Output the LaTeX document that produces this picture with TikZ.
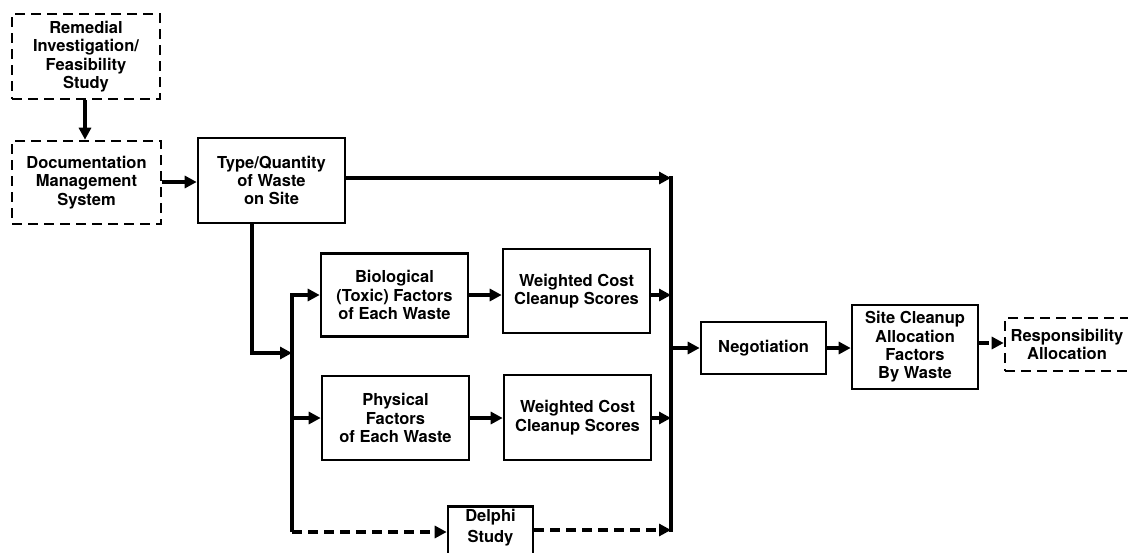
\documentclass[tikz,border=0pt]{standalone}
\usepackage{fontspec}
\setmainfont{TeX Gyre Heros}
\usetikzlibrary{arrows.meta}
\tikzset{
  txt/.style={font=\fontsize{16.5}{18.4}\selectfont\bfseries, align=center},
  box/.style={txt, draw, line width=2.6pt, inner sep=0pt},
  dbox/.style={box, dash pattern=on 10pt off 6pt},
  conn/.style={line width=3.8pt, -{Triangle[length=12pt,width=12pt]}},
  line/.style={line width=3.8pt},
  dconn/.style={conn, dash pattern=on 10pt off 6pt},
}
\begin{document}
\begin{tikzpicture}[x=1pt,y=-1pt]
\useasboundingbox[fill=white] (0,0) rectangle (1128,552);
\node[dbox, minimum width=148pt, minimum height=85pt] (rifs) at (86,56.5) {Remedial\\Investigation/\\Feasibility\\Study};
\node[dbox, minimum width=149pt, minimum height=83pt] (dms) at (86.5,182.5) {Documentation\\Management\\System};
\node[box, minimum width=147pt, minimum height=85pt] (tq) at (271.5,180.5) {Type/Quantity\\of Waste\\on Site};
\node[box, minimum width=147pt, minimum height=83pt] (bio) at (394.5,295) {Biological\\(Toxic) Factors\\of Each Waste};
\node[box, minimum width=147pt, minimum height=84pt] (wcc1) at (576.5,291) {Weighted Cost\\Cleanup Scores};
\node[box, minimum width=147pt, minimum height=84pt] (phys) at (395.5,418) {Physical\\Factors\\of Each Waste};
\node[box, minimum width=147pt, minimum height=85pt] (wcc2) at (577.5,417.5) {Weighted Cost\\Cleanup Scores};
\node[box, minimum width=85pt, minimum height=51pt, anchor=north] (delphi) at (490.5,505) {};
\node[txt, font=\fontsize{16.5}{21}\selectfont\bfseries] (delphit) at (490.5,528) {Delphi\\Study};
\node[box, minimum width=125pt, minimum height=52pt] (neg) at (763.5,348) {Negotiation};
\node[box, minimum width=126pt, minimum height=84pt] (scaf) at (915,347) {Site Cleanup\\Allocation\\Factors\\By Waste};
\node[dbox, minimum width=124pt, minimum height=53pt] (resp) at (1067,344.5) {Responsibility\\Allocation};

% coordinates
\coordinate (ttop) at (671,178);
\coordinate (rbot) at (671,532);
\coordinate (rneg) at (671,348);
\coordinate (tdown) at (252,353);
\coordinate (lbus) at (292,353);
\coordinate (ltop) at (292,295);
\coordinate (lphy) at (292,418);
\coordinate (lbot) at (292,532);

\draw[conn] (rifs.south -| 85,0) -- (dms.north -| 85,0);
\draw[conn] (dms.east |- 0,182) -- (tq.west |- 0,182);
\draw[conn] (tq.east |- ttop) -- (ttop);
\draw[line] (671,176.1) -- (rbot);
\draw[line] (tq.south -| tdown) -- (tdown);
\draw[conn] (252,351.1) |- (lbus);
\draw[line] (ltop) ++(0,-1.9) -- (lbot);
\draw[conn] (ltop) -- (bio.west |- ltop);
\draw[conn] (lphy) -- (phys.west |- lphy);
\draw[dconn] (lbot) -- (delphi.west |- lbot);
\draw[conn] (bio.east |- ltop) -- (wcc1.west |- ltop);
\draw[conn] (phys.east |- lphy) -- (wcc2.west |- lphy);
\draw[conn] (wcc1.east |- ltop) -- (ltop -| ttop);
\draw[conn] (wcc2.east |- lphy) -- (lphy -| ttop);
\draw[dconn] (delphi.east |- 0,530) -- (ttop |- 0,530);
\draw[conn] (rneg) -- (neg.west |- rneg);
\draw[conn] (neg.east) -- (scaf.west |- neg.east);
\draw[dconn] (scaf.east |- 0,343) -- (resp.west |- 0,343);
\end{tikzpicture}
\end{document}
